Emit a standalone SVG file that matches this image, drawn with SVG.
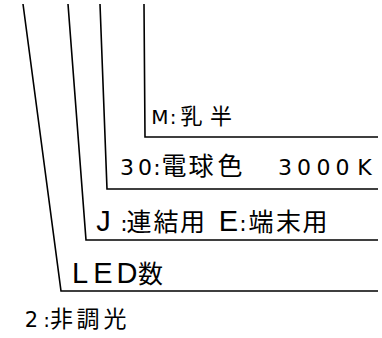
<svg xmlns="http://www.w3.org/2000/svg" width="382" height="338" viewBox="0 0 382 338">
<style>
.bg{fill:#ffffff}
.ld{fill:none;stroke:#000000;stroke-width:1.6;stroke-linejoin:miter}
.lb{font-family:"DejaVu Sans","Noto Sans CJK JP",sans-serif;fill:#000000;text-anchor:middle;font-size:22px}
.cj{font-family:"Noto Sans CJK JP",sans-serif}
.nw{font-family:"Liberation Sans",sans-serif}
.s20{font-size:20px}
.s21{font-size:21px}
.s22{font-size:22px}
.s23{font-size:23px}
.s25{font-size:25px}
.s29{font-size:29px}
</style>
<rect class="bg" x="0" y="0" width="382" height="338"/>
<g id="connectors">
<polyline class="ld" points="23,4 61,291 378,291"/>
<polyline class="ld" points="68,4 86,240 378,240"/>
<polyline class="ld" points="100,4 107,189 378,189"/>
<polyline class="ld" points="144,4 145,137 378,137"/>
</g>
<g id="node-shade">
<text class="lb" y="123.5"><tspan class="s20" x="160">M</tspan><tspan class="s20" x="173">:</tspan><tspan class="cj s22" x="191.5 221">乳半</tspan></text>
</g>
<g id="node-color">
<text class="lb" y="174.5"><tspan class="s22" x="127 145 157">30:</tspan><tspan class="cj s25" x="174 201 230">電球色</tspan><tspan class="s22" x="285 304 323.5 342.5 364.5">3000K</tspan></text>
</g>
<g id="node-type">
<text class="lb" y="230.5"><tspan class="nw s29" x="103.5">J</tspan><tspan class="s22" x="124">:</tspan><tspan class="cj s25" x="139 166 192.5">連結用</tspan><tspan class="nw s29" x="228.5">E</tspan><tspan class="s22" x="243">:</tspan><tspan class="cj s25" x="261 288.5 315">端末用</tspan></text>
</g>
<g id="node-led">
<text class="lb" y="283"><tspan class="nw s29" x="80 103 127">LED</tspan><tspan class="cj s25" x="150.5">数</tspan></text>
</g>
<g id="node-dimming">
<text class="lb" y="326.5"><tspan class="s21" x="31.5">2</tspan><tspan class="s20" x="46.5">:</tspan><tspan class="cj s23" x="61.5 88 115">非調光</tspan></text>
</g>
</svg>
